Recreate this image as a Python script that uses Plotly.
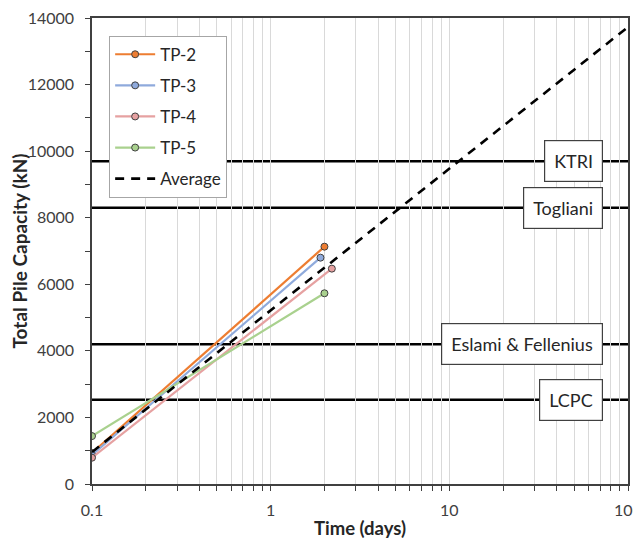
import plotly.graph_objects as go

# ---- data ----
series_names = ["TP-2", "TP-3", "TP-4", "TP-5"]
series_x = [[0.1, 2.0], [0.1, 1.9], [0.1, 2.2], [0.1, 2.0]]
series_y = [[930, 7130], [870, 6800], [790, 6470], [1440, 5730]]
series_colors = ["#ED7D31", "#8FAADC", "#E6A1A1", "#A9D18E"]

avg_x = [0.1, 100]
avg_y = [960, 13730]

ref_names = ["KTRI", "Togliani", "Eslami & Fellenius", "LCPC"]
ref_values = [9700, 8300, 4200, 2530]

x_tickvals = [0.1, 1, 10, 100]
x_ticktext = ["0.1", "1", "10", "100"]
x_minor_vals = [m * d for d in (0.1, 1, 10) for m in range(2, 10)]

FONT = "Lato, Open Sans, sans-serif"

fig = go.Figure()

for name, xs, ys, c in zip(series_names, series_x, series_y, series_colors):
    fig.add_trace(go.Scatter(
        x=xs, y=ys, name=name, mode="lines+markers", legendgroup=name,
        line=dict(color=c, width=2.2),
        marker=dict(symbol="circle", size=7, color=c,
                    line=dict(color="#404040", width=1)),
    ))

fig.add_trace(go.Scatter(
    x=avg_x, y=avg_y, name="Average", mode="lines", legendgroup="Average",
    line=dict(color="black", width=2.6, dash="9px,7px"),
))

for name, v in zip(ref_names, ref_values):
    fig.add_shape(type="line", xref="paper", yref="y", x0=0, x1=1, y0=v, y1=v,
                  line=dict(color="black", width=2.5), layer="below")
    fig.add_annotation(
        text=name, xref="paper", yref="y", x=0.953, y=v,
        xanchor="right", yanchor="middle", showarrow=False,
        font=dict(family=FONT, size=18, color="#262626"),
        bgcolor="white", bordercolor="#404040", borderwidth=1.2,
        borderpad=9,
    )

# page body has an 8px margin: figure is sized/margined to land the plot area
# at the same page position as the reference
fig.update_layout(
    width=633, height=538,
    margin=dict(l=84, r=13, t=10, b=62),
    paper_bgcolor="white", plot_bgcolor="white",
    font=dict(family=FONT, size=15, color="#404040"),
    showlegend=True,
    legend=dict(
        x=0.032, y=0.962, xanchor="left", yanchor="top",
        bgcolor="white", bordercolor="#A6A6A6", borderwidth=1,
        font=dict(family=FONT, size=17, color="#262626"),
        itemwidth=40, tracegroupgap=6,
    ),
)

fig.update_xaxes(
    type="log", range=[-1, 2], automargin=False,
    tickvals=x_tickvals, ticktext=x_ticktext, ticklabeloverflow="allow",
    showgrid=True, gridcolor="#D9D9D9", gridwidth=1,
    ticks="outside", ticklen=5, tickcolor="#404040", ticklabelstandoff=6,
    showline=True, linecolor="#404040", linewidth=1.5, mirror=True,
    minor=dict(tickvals=x_minor_vals, ticks="outside", ticklen=5, tickcolor="#404040",
               showgrid=True, gridcolor="#D9D9D9", gridwidth=1),
    zeroline=False,
    title=dict(text="<b>Time (days)</b>", font=dict(family=FONT, size=18.5, color="#262626"), standoff=4),
    tickfont=dict(family=FONT, size=16, color="#404040"),
)

fig.update_yaxes(
    range=[0, 14000], dtick=2000, tickformat="d", automargin=False,
    ticklabeloverflow="allow",
    showgrid=False, zeroline=False,
    ticks="outside", ticklen=5, tickcolor="#404040", ticklabelstandoff=8,
    showline=True, linecolor="#404040", linewidth=1.5, mirror=True,
    minor=dict(dtick=1000, ticks="outside", ticklen=5, tickcolor="#404040"),
    title=dict(text="<b>Total Pile Capacity (kN)</b>", font=dict(family=FONT, size=19, color="#262626"), standoff=2),
    tickfont=dict(family=FONT, size=16, color="#404040"),
)

fig.write_html("out.html")
